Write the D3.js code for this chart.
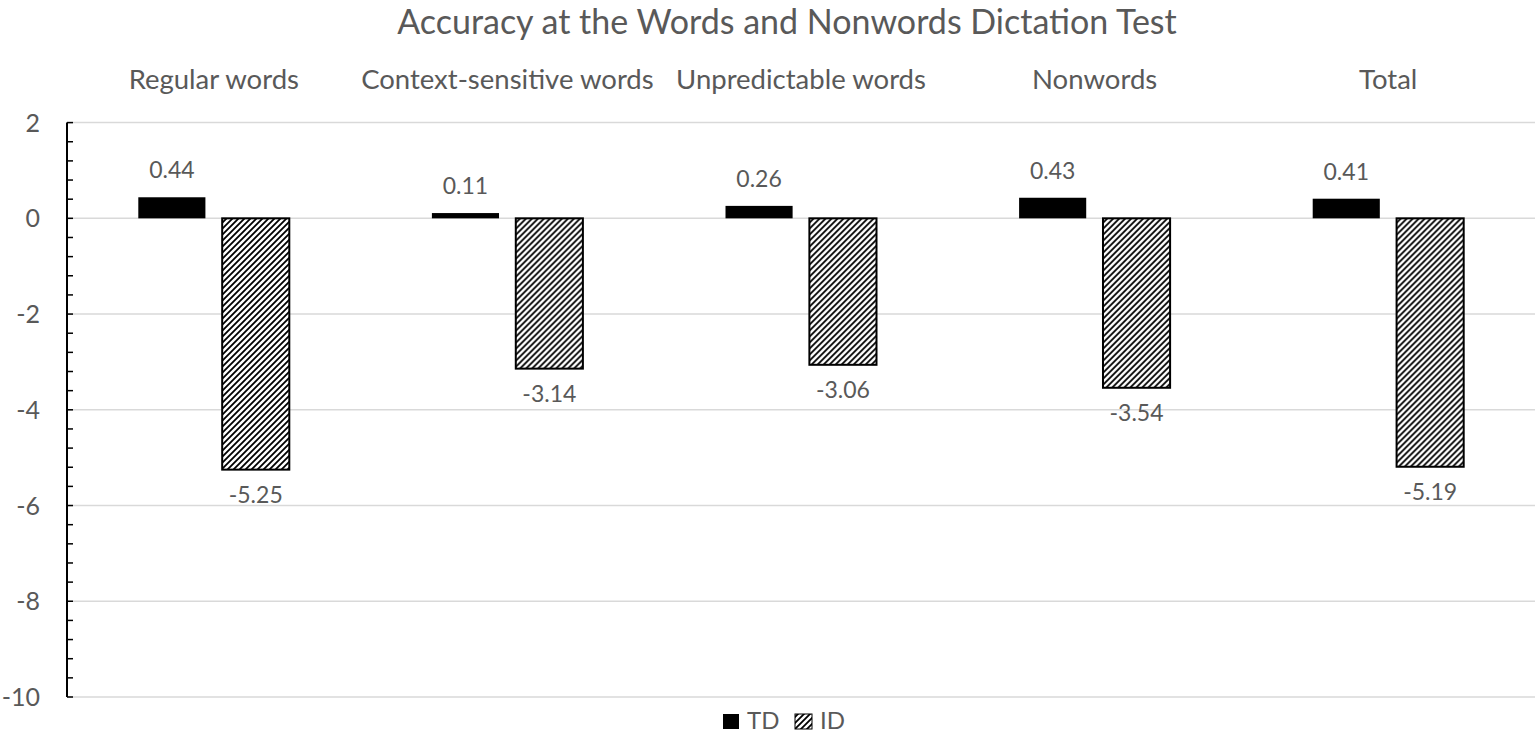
<!DOCTYPE html>
<html><head><meta charset="utf-8">
<script src="https://cdn.jsdelivr.net/npm/d3@7"></script>
<style>body{margin:0;background:#fff}svg{display:block}text{font-family:Lato,"Open Sans",sans-serif;fill:#595959}</style>
</head><body>
<script>
const categories = ["Regular words","Context-sensitive words","Unpredictable words","Nonwords","Total"];
const seriesNames = ["TD","ID"];
const tdValues = [0.44,0.11,0.26,0.43,0.41];
const idValues = [-5.25,-3.14,-3.06,-3.54,-5.19];
const yTicks = [2,0,-2,-4,-6,-8,-10];
const title = "Accuracy at the Words and Nonwords Dictation Test";

(function(){
const W=1537,H=737;
const svg=d3.select("body").append("svg").attr("width",W).attr("height",H);
const defs=svg.append("defs");
const pat=defs.append("pattern").attr("id","hatch").attr("patternUnits","userSpaceOnUse")
  .attr("width",6).attr("height",6);
pat.append("rect").attr("width",6).attr("height",6).attr("fill","#fff");
pat.append("path").attr("d","M-1,1 l2,-2 M0,6 l6,-6 M5,7 l2,-2").attr("stroke","#000").attr("stroke-width",1.8);

const pl=67,pr=1535,pt=122.6,pb=697;
const y=d3.scaleLinear().domain([-10,2]).range([pb,pt]);
const x0=d3.scaleBand().domain(categories).range([pl,pr]);
const x1=d3.scaleBand().domain(seriesNames).range([0,x0.bandwidth()]).paddingInner(0.2).paddingOuter(0.85);

svg.append("g").selectAll("line").data(yTicks).join("line")
  .attr("x1",pl).attr("x2",pr).attr("y1",d=>y(d)).attr("y2",d=>y(d))
  .attr("stroke","#d9d9d9").attr("stroke-width",1.5);

const minor=d3.range(-10,2.001,0.4).map(v=>Math.round(v*10)/10);
const ax=svg.append("g");
ax.append("line").attr("x1",pl).attr("x2",pl).attr("y1",y(2)).attr("y2",y(-10)).attr("stroke","#000").attr("stroke-width",2);
ax.selectAll("line.t").data(minor).join("line").attr("class","t")
  .attr("x1",pl).attr("x2",pl+6).attr("y1",d=>y(d)).attr("y2",d=>y(d)).attr("stroke","#000").attr("stroke-width",1.5);
ax.selectAll("text").data(yTicks).join("text")
  .attr("x",40).attr("y",d=>y(d)).attr("dy","0.36em").attr("text-anchor","end")
  .attr("font-size",25).text(d=>d);

svg.append("g").selectAll("text").data(categories).join("text")
  .attr("x",d=>x0(d)+x0.bandwidth()/2).attr("y",89).attr("text-anchor","middle")
  .attr("font-size",27.5).text(d=>d);

svg.append("text").attr("x",787).attr("y",34).attr("text-anchor","middle").attr("font-size",34).text(title);

const data=categories.map((c,i)=>({c,vals:[{s:"TD",v:tdValues[i]},{s:"ID",v:idValues[i]}]}));
const g=svg.append("g").selectAll("g").data(data).join("g").attr("transform",d=>`translate(${x0(d.c)},0)`);
g.selectAll("rect").data(d=>d.vals).join("rect")
  .attr("x",d=>x1(d.s)).attr("width",x1.bandwidth())
  .attr("y",d=>y(Math.max(0,d.v))).attr("height",d=>Math.abs(y(d.v)-y(0)))
  .attr("fill",d=>d.s==="TD"?"#000":"url(#hatch)")
  .attr("stroke",d=>d.s==="TD"?"none":"#000").attr("stroke-width",2);
g.selectAll("text").data(d=>d.vals).join("text")
  .attr("x",d=>x1(d.s)+x1.bandwidth()/2)
  .attr("y",d=>d.v>=0?y(d.v)-19:y(d.v)+33)
  .attr("text-anchor","middle").attr("font-size",23).text(d=>d.v.toFixed(2));

const lg=svg.append("g");
lg.append("rect").attr("x",723).attr("y",714).attr("width",16).attr("height",15).attr("fill","#000");
lg.append("text").attr("x",747).attr("y",729).attr("font-size",24).text("TD");
lg.append("rect").attr("x",795).attr("y",714).attr("width",17).attr("height",15).attr("fill","url(#hatch)").attr("stroke","#000").attr("stroke-width",1);
lg.append("text").attr("x",820).attr("y",729).attr("font-size",24).text("ID");
})();
</script>
</body></html>
